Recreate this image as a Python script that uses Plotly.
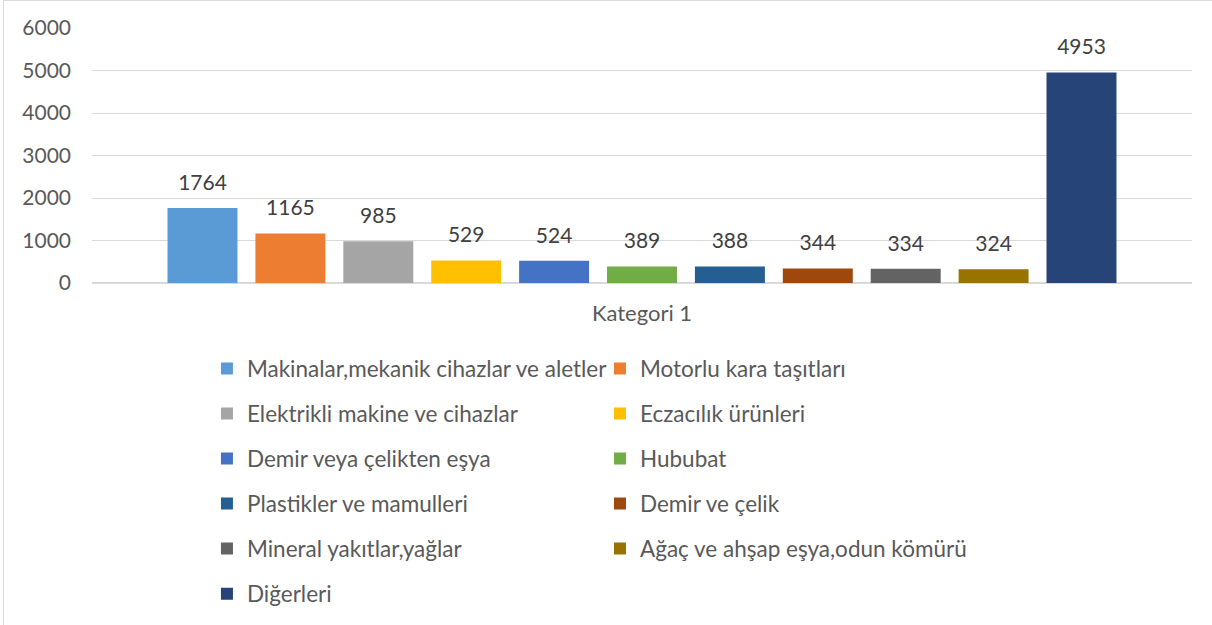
import plotly.graph_objects as go

categories = ["Kategori 1"]
series_names = [
    "Makinalar,mekanik cihazlar ve aletler",
    "Motorlu kara taşıtları",
    "Elektrikli makine ve cihazlar",
    "Eczacılık ürünleri",
    "Demir veya çelikten eşya",
    "Hububat",
    "Plastikler ve mamulleri",
    "Demir ve çelik",
    "Mineral yakıtlar,yağlar",
    "Ağaç ve ahşap eşya,odun kömürü",
    "Diğerleri",
]
series_values = [1764, 1165, 985, 529, 524, 389, 388, 344, 334, 324, 4953]
series_colors = [
    "#5B9BD5", "#ED7D31", "#A5A5A5", "#FFC000", "#4472C4", "#70AD47",
    "#255E91", "#9E480E", "#636363", "#997300", "#264478",
]
y_ticks = [0, 1000, 2000, 3000, 4000, 5000, 6000]

FONT = "Lato, 'Open Sans', sans-serif"
TEXT_COLOR = "#595959"
FS = 21

fig = go.Figure()
for i, (name, val, col) in enumerate(zip(series_names, series_values, series_colors)):
    fig.add_trace(go.Bar(
        x=categories,
        y=[val],
        name=name,
        offsetgroup=str(i),
        marker=dict(color=col, line=dict(width=0)),
        legendgroup=f"g{i}",
        # left column gets the even items, right column the odd ones
        legend="legend" if i % 2 == 0 else "legend2",
    ))

# value labels as grouped text traces so they sit a bit higher above the bars (Excel style)
for i, val in enumerate(series_values):
    fig.add_trace(go.Scatter(
        x=categories,
        y=[val],
        mode="markers+text",
        offsetgroup=str(i),
        marker=dict(size=19, opacity=0),
        text=[str(val)],
        textposition="top center",
        textfont=dict(size=FS, color="#404040", family=FONT),
        cliponaxis=False,
        showlegend=False,
        hoverinfo="skip",
    ))

legend_common = dict(
    orientation="v",
    yanchor="top",
    y=-0.252,
    xanchor="left",
    bgcolor="rgba(0,0,0,0)",
    font=dict(size=22.5, color=TEXT_COLOR, family=FONT),
    tracegroupgap=12.8,
    itemclick=False,
)

fig.update_layout(
    width=1212,
    height=625,
    paper_bgcolor="white",
    plot_bgcolor="white",
    barmode="group",
    scattermode="group",
    bargap=0.121,
    bargroupgap=0.204,
    scattergap=0.121,
    font=dict(family=FONT, color=TEXT_COLOR, size=FS),
    margin=dict(l=92, r=20, t=28, b=342, autoexpand=False),
    showlegend=True,
    legend=dict(x=0.1045, **legend_common),
    legend2=dict(x=0.4618, **legend_common),
    xaxis=dict(
        showgrid=False,
        showline=False,
        ticks="",
        tickfont=dict(size=22, color=TEXT_COLOR),
        ticklabelstandoff=15,
        automargin=False,
    ),
    yaxis=dict(
        range=[0, 6000],
        tickvals=y_ticks,
        showgrid=True,
        gridcolor="#D9D9D9",
        gridwidth=1,
        zeroline=True,
        zerolinecolor="#D9D9D9",
        showline=False,
        ticks="",
        ticklabelstandoff=20,
        tickfont=dict(size=FS, color=TEXT_COLOR),
        automargin=False,
    ),
    # chart-area border: only the left and top edges fall inside the picture
    shapes=[dict(
        type="rect", xref="paper", yref="paper",
        x0=(3.5 - 92) / 1100, x1=(1230 - 92) / 1100,
        y0=(283 - 640) / 255, y1=(283 - 0.5) / 255,
        line=dict(color="#D9D9D9", width=1),
        fillcolor="rgba(0,0,0,0)",
        layer="below",
    )],
)

# drop the default body margin so the figure sits at the page corner
fig.write_html(
    "out.html",
    config={"displayModeBar": False},
    post_script="document.body.style.margin='0';",
)
